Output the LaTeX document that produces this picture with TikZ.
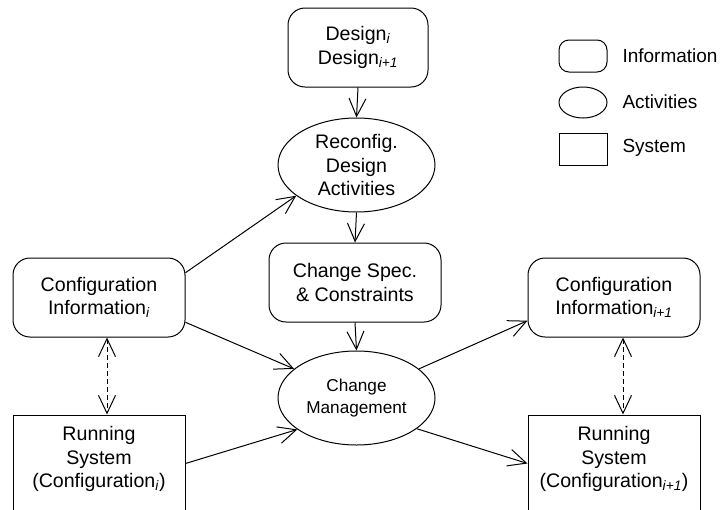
\documentclass[tikz,border=0pt]{standalone}
\usepackage{fontspec}
\setmainfont{Liberation Sans}
\usetikzlibrary{shapes.geometric,arrows.meta,calc}
\begin{document}
\begin{tikzpicture}[x=1pt,y=-1pt,line width=1pt,
  txt/.style={align=center,font=\fontsize{19.6}{23.5}\selectfont,inner sep=0pt},
  infobox/.style={draw,rounded corners=17pt,minimum width=172pt,minimum height=79pt,txt},
  actell/.style={draw,ellipse,minimum width=157pt,minimum height=94pt,txt},
  sysbox/.style={draw,rectangle,minimum width=172pt,minimum height=97pt,inner sep=0pt},
  arr/.style={-{Straight Barb[length=18pt,width=17pt]}},
  darr/.style={{Straight Barb[length=18pt,width=17pt]}-{Straight Barb[length=18pt,width=17pt]},dash pattern=on 5pt off 3pt},
  legtxt/.style={anchor=west,font=\fontsize{19}{23.5}\selectfont,inner sep=0pt}]
\useasboundingbox (0,0) rectangle (720,509);
\clip (0,0) rectangle (720,509);

% main nodes
\node[infobox,minimum width=140pt] (design) at (358,47.5) {Design\textsubscript{\textit{i}}\\Design\textsubscript{\textit{i+1}}};
\node[actell] (reconf) at (356.5,165) {Reconfig.\\Design\\Activities};
\node[infobox] (spec) at (355,282.5) {Change Spec.\\\& Constraints};
\node[actell,font=\fontsize{17.2}{22.5}\selectfont] (cm) at (356.5,398) {Change\\Management};
\node[infobox] (ci) at (99,297.5) {Configuration\\Information\textsubscript{\textit{i}}};
\node[infobox] (ci1) at (614,297.5) {Configuration\\Information\textsubscript{\textit{i+1}}};
\node[sysbox] (rsl) at (99,463.5) {};
\node[txt] (rslt) at (99,459) {Running\\System\\(Configuration\textsubscript{\textit{i}})};
\node[sysbox] (rsr) at (614,463.5) {};
\node[txt] (rsrt) at (614,459) {Running\\System\\(Configuration\textsubscript{\textit{i+1}})};

% legend
\node[draw,rounded corners=10pt,minimum width=48pt,minimum height=32pt,inner sep=0pt] (lgi) at (583,56) {};
\node[draw,ellipse,minimum width=48pt,minimum height=31pt,inner sep=0pt] (lga) at (583,102.5) {};
\node[draw,rectangle,minimum width=48pt,minimum height=32pt,inner sep=0pt] (lgs) at (583,149) {};
\node[legtxt] (lgit) at (622,56) {Information};
\node[legtxt] (lgat) at (622,102) {Activities};
\node[legtxt] (lgst) at (622,148) {System};

% connectors
\draw[arr] (design.south) -- (reconf.north);
\draw[arr] (reconf.south) -- (spec.north);
\draw[arr] (spec.south) -- (cm.north);
\draw[arr] (ci.16) -- (reconf.207);
\draw[arr] (ci.-16) -- (cm.155);
\draw[arr] (rsl.east) -- (cm.208);
\draw[arr] (cm.25) -- (ci1.195);
\draw[arr] (cm.-27) -- (rsr.west);
\draw[darr] ([xshift=8pt]ci.south) -- ([xshift=8pt]rsl.north);
\draw[darr] ([xshift=9pt]ci1.south) -- ([xshift=9pt]rsr.north);
\end{tikzpicture}
\end{document}
